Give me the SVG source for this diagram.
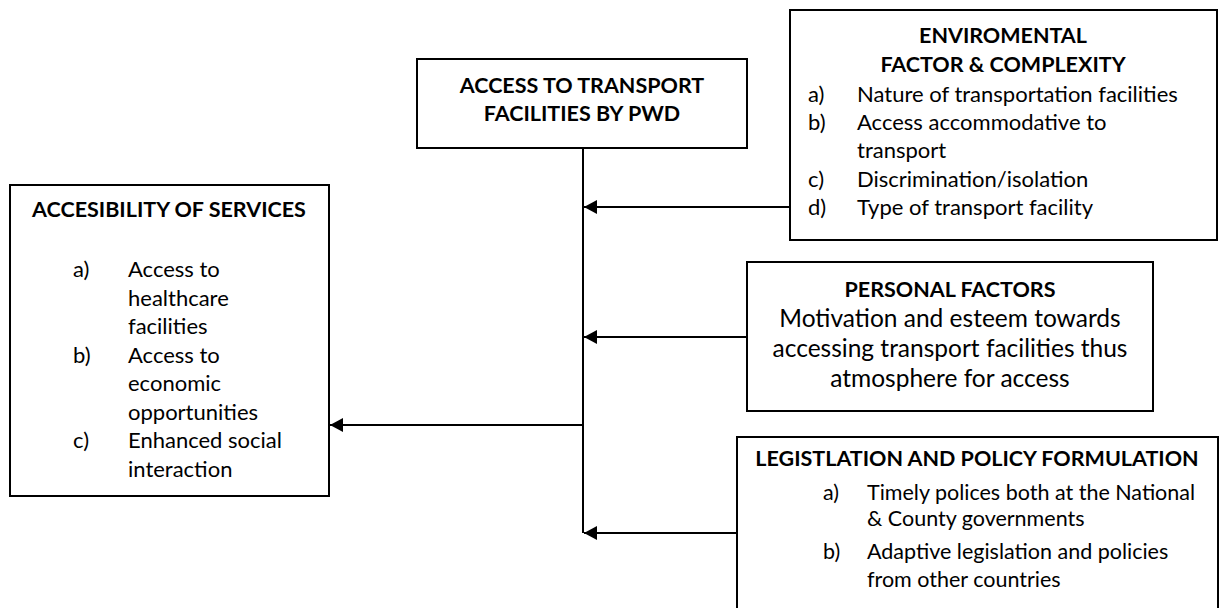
<svg xmlns="http://www.w3.org/2000/svg" width="1221" height="608" viewBox="0 0 1221 608">
<defs>
<style>
.box{fill:#fff;stroke:#000;stroke-width:2}
.t{font-family:Lato,"Liberation Sans",sans-serif;font-size:22px;fill:#000}
.b{font-weight:bold;font-size:21.5px}
.c{text-anchor:middle}
.p{font-size:24.5px}
.l{font-size:21.5px}
.ln{stroke:#000;stroke-width:2;fill:none}
</style>
<marker id="ah" viewBox="0 0 13 14" refX="13" refY="7" markerWidth="13" markerHeight="14" markerUnits="userSpaceOnUse" orient="auto">
<path d="M0,0 L13,7 L0,14 Z" fill="#000"/>
</marker>
</defs>
<rect width="1221" height="608" fill="#fff"/>

<g id="connectors">
<line class="ln" x1="583" y1="148" x2="583" y2="533"/>
<line class="ln" x1="790" y1="207" x2="584" y2="207" marker-end="url(#ah)"/>
<line class="ln" x1="747" y1="337" x2="584" y2="337" marker-end="url(#ah)"/>
<line class="ln" x1="583" y1="425" x2="330" y2="425" marker-end="url(#ah)"/>
<line class="ln" x1="737" y1="533" x2="584" y2="533" marker-end="url(#ah)"/>
</g>

<g id="access-transport">
<rect class="box" x="417" y="59" width="330" height="89"/>
<text class="t b c" x="582" y="93">ACCESS TO TRANSPORT</text>
<text class="t b c" x="582" y="121">FACILITIES BY PWD</text>
</g>

<g id="environmental">
<rect class="box" x="790" y="10" width="427" height="230"/>
<text class="t b c" x="1003" y="43">ENVIROMENTAL</text>
<text class="t b c" x="1003" y="72">FACTOR &amp; COMPLEXITY</text>
<text class="t" x="808" y="102">a)</text><text class="t" x="857" y="102">Nature of transportation facilities</text>
<text class="t" x="808" y="130">b)</text><text class="t" x="857" y="130">Access accommodative to</text>
<text class="t" x="857" y="158">transport</text>
<text class="t" x="808" y="187">c)</text><text class="t" x="857" y="187">Discrimination/isolation</text>
<text class="t" x="808" y="215">d)</text><text class="t" x="857" y="215">Type of transport facility</text>
</g>

<g id="personal">
<rect class="box" x="747" y="262" width="406" height="149"/>
<text class="t b c" x="950" y="297">PERSONAL FACTORS</text>
<text class="t p c" x="950" y="327">Motivation and esteem towards</text>
<text class="t p c" x="950" y="357">accessing transport facilities thus</text>
<text class="t p c" x="950" y="387">atmosphere for access</text>
</g>

<g id="legislation">
<rect class="box" x="737" y="437" width="481" height="190"/>
<text class="t b c" x="977" y="466">LEGISTLATION AND POLICY FORMULATION</text>
<text class="t l" x="823" y="500">a)</text><text class="t l" x="867" y="500">Timely polices both at the National</text>
<text class="t l" x="867" y="526">&amp; County governments</text>
<text class="t l" x="823" y="559">b)</text><text class="t l" x="867" y="559">Adaptive legislation and policies</text>
<text class="t l" x="867" y="587">from other countries</text>
</g>

<g id="accessibility">
<rect class="box" x="10" y="185" width="319" height="311"/>
<text class="t b c" x="169" y="217">ACCESIBILITY OF SERVICES</text>
<text class="t" x="73" y="277">a)</text><text class="t" x="128" y="277">Access to</text>
<text class="t" x="128" y="305.5">healthcare</text>
<text class="t" x="128" y="334">facilities</text>
<text class="t" x="73" y="362.5">b)</text><text class="t" x="128" y="362.5">Access to</text>
<text class="t" x="128" y="391">economic</text>
<text class="t" x="128" y="419.5">opportunities</text>
<text class="t" x="73" y="448">c)</text><text class="t" x="128" y="448">Enhanced social</text>
<text class="t" x="128" y="476.5">interaction</text>
</g>
</svg>
